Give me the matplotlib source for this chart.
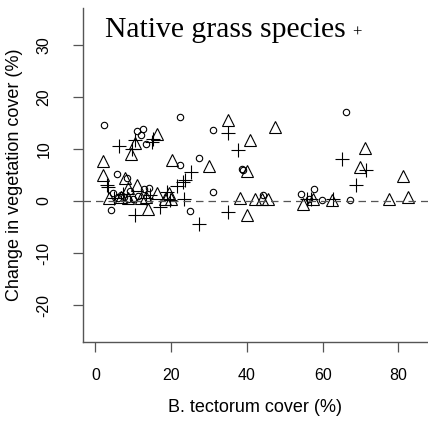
import matplotlib
matplotlib.use("Agg")
import matplotlib.pyplot as plt

plt.rcParams['axes.unicode_minus'] = False

# Circles
circ_x = [2.2, 11.0, 12.5, 12.0, 13.3, 22.3, 31.0, 27.3, 22.3, 38.7, 31.0, 25.0, 4.1, 5.7, 8.3,
          12.8, 14.1, 4.6, 6.0, 7.5, 8.5, 9.8, 11.2, 66.2, 44.2, 54.3, 57.7, 59.8, 67.2, 38.9,
          56.5, 6.8, 9.2]
circ_y = [14.6, 13.5, 13.8, 12.7, 11.0, 16.2, 13.7, 8.3, 6.9, 6.2, 1.7, -1.9, -1.7, 5.2, 4.5,
          2.3, 2.5, 1.5, 0.6, 0.8, 0.4, 0.3, 0.9, 17.1, 1.2, 1.3, 2.3, 0.2, 0.2, 6.0,
          0.4, 1.2, 1.9]
# Triangles
tri_x = [2.0, 2.0, 10.4, 9.3, 16.2, 20.2, 30.0, 35.0, 40.8, 40.0, 40.0, 13.9, 7.8, 8.6, 11.0,
         16.2, 6.8, 8.6, 13.3, 18.3, 20.0, 38.2, 42.2, 44.0, 45.5, 47.4, 71.2, 69.9, 81.2, 82.5,
         77.5, 62.4, 54.9, 57.5, 12.0, 19.5, 3.5]
tri_y = [7.7, 5.0, 11.2, 9.0, 12.8, 7.8, 6.7, 15.6, 11.7, 5.8, -2.7, -1.5, 4.4, 2.5, 3.1,
         1.5, 0.7, 0.5, 0.7, 0.4, 0.4, 0.6, 0.4, 0.3, 0.3, 14.2, 10.1, 6.6, 4.8, 0.8,
         0.3, 0.2, -0.6, 0.3, 0.5, 1.6, 0.5]
# Plus signs
plus_x = [6.3, 9.6, 10.3, 14.9, 15.2, 35.0, 37.6, 25.2, 23.6, 23.1, 21.5, 3.0, 3.3, 18.9, 23.4,
          10.4, 27.4, 35.0, 17.0, 13.3, 4.8, 7.2, 14.5, 19.8, 65.1, 71.5, 68.8, 55.9, 62.7, 56.8]
plus_y = [10.6, 10.0, 11.7, 11.3, 11.9, 13.0, 9.9, 5.6, 4.0, 3.7, 2.9, 3.1, 2.7, 1.7, 0.3,
          -2.7, -4.4, -2.1, -1.1, 0.6, 0.5, 1.3, 1.2, 0.2, 8.0, 6.0, 3.1, 0.3, 0.3, 0.3]

xticks = [0, 20, 40, 60, 80]
yticks = [-20, -10, 0, 10, 20, 30]

W, H = 428, 422
fig = plt.figure(figsize=(W / 100, H / 100), dpi=100)
L, R, T, B = 83, 428, 8, 342
ax = fig.add_axes([L / W, (H - B) / H, (R - L) / W, (B - T) / H])

ax.plot(circ_x, circ_y, linestyle='none', marker='o', markersize=4.6, markerfacecolor='none',
        markeredgecolor='black', markeredgewidth=0.8)
ax.plot(tri_x, tri_y, linestyle='none', marker='^', markersize=8.5, markerfacecolor='none',
        markeredgecolor='black', markeredgewidth=0.8)
ax.plot(plus_x, plus_y, linestyle='none', marker='+', markersize=9.5,
        markeredgecolor='black', markeredgewidth=0.8)

ax.axhline(0, color='#555555', linewidth=0.9, dashes=(6, 4))

ax.set_xlim(-3.3, 87.8)
ax.set_ylim(-27.1, 37.1)

for s in ['top', 'right']:
    ax.spines[s].set_visible(False)
for s in ['left', 'bottom']:
    ax.spines[s].set_color('#555555')
    ax.spines[s].set_linewidth(1.0)

ax.set_xticks(xticks)
ax.set_yticks(yticks)
ax.tick_params(axis='both', direction='out', length=7, width=0.9, color='#555555',
               labelsize=11.5)
ax.tick_params(axis='x', pad=12)
ax.tick_params(axis='y', pad=21)
for lab in ax.get_yticklabels():
    lab.set_rotation(90)
    lab.set_va('center')
    lab.set_ha('center')
for lab in ax.get_xticklabels() + ax.get_yticklabels():
    lab.set_fontfamily('Liberation Sans')

ax.set_xlabel('B. tectorum cover (%)', fontsize=13, family='Liberation Sans', va='center')
ax.xaxis.set_label_coords(0.5, (B - 408) / (B - T))
ax.set_ylabel('Change in vegetation cover (%)', fontsize=13, family='Liberation Sans', va='center')
ax.yaxis.set_label_coords((15 - L) / (R - L), 0.5)

ax.text((105 - L) / (R - L), (B - 37) / (B - T), 'Native grass species',
        transform=ax.transAxes, family='Liberation Serif', fontsize=21.3, va='baseline', ha='left')
ax.text((352 - L) / (R - L), (B - 37) / (B - T), '+',
        transform=ax.transAxes, family='Liberation Serif', fontsize=12, va='baseline', ha='left')

fig.savefig('out.png', dpi=100)
